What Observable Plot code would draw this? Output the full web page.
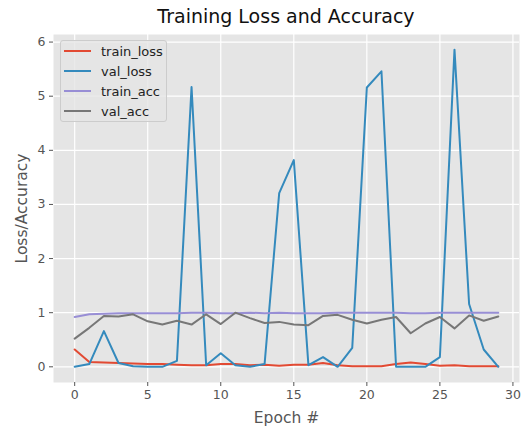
<!DOCTYPE html>
<html>
<head>
<meta charset="utf-8">
<script src="https://cdn.jsdelivr.net/npm/d3@7"></script>
<script src="https://cdn.jsdelivr.net/npm/@observablehq/plot@0.6"></script>
<style>
  body { margin: 0; background: #fff; font-family: "DejaVu Sans", sans-serif; }
  #wrap { position: relative; width: 526px; height: 428px; }
  #title { position: absolute; left: 53px; width: 466px; top: 5px; text-align: center; font-size: 19px; color: #111; }
  #chart { position: absolute; left: 0; top: 34px; }
  #legend { position: absolute; left: 60px; top: 40px; width: 107px; height: 82px; background: rgba(229,229,229,0.8); border: 1px solid #ccc; border-radius: 3px; box-sizing: border-box; font-size: 13px; color: #222; }
  .row { position: absolute; left: 3px; height: 20px; display: flex; align-items: center; }
  .row span.sw { display: inline-block; width: 27px; height: 2px; margin-right: 10px; }
</style>
</head>
<body>
<div id="wrap">
  <div id="title">Training Loss and Accuracy</div>
  <div id="chart"></div>
  <div id="legend"></div>
</div>
<script>
const epochs = d3.range(0, 30);
const seriesNames = ["train_loss", "val_loss", "train_acc", "val_acc"];
const seriesColors = ["#E24A33", "#348ABD", "#988ED5", "#777777"];
const train_loss = [0.32,0.09,0.08,0.07,0.06,0.05,0.05,0.04,0.03,0.03,0.05,0.05,0.03,0.04,0.02,0.04,0.04,0.07,0.03,0.01,0.01,0.01,0.05,0.08,0.05,0.02,0.03,0.01,0.01,0.01];
const val_loss = [0.0,0.05,0.66,0.07,0.01,0.0,0.0,0.11,5.17,0.03,0.25,0.03,0.0,0.05,3.21,3.82,0.03,0.18,0.0,0.35,5.16,5.46,0.0,0.0,0.0,0.18,5.86,1.16,0.32,0.0];
const train_acc = [0.92,0.97,0.98,0.99,0.99,0.99,0.99,0.99,1.0,1.0,0.99,0.99,1.0,0.99,1.0,0.99,0.99,0.99,1.0,1.0,1.0,1.0,1.0,0.99,0.99,1.0,1.0,1.0,1.0,1.0];
const val_acc = [0.52,0.72,0.94,0.93,0.97,0.84,0.78,0.85,0.78,0.97,0.79,1.0,0.90,0.81,0.83,0.78,0.77,0.94,0.96,0.87,0.80,0.87,0.92,0.62,0.80,0.92,0.71,0.95,0.85,0.93];
const xTicks = [0, 5, 10, 15, 20, 25, 30];
const yTicks = [0, 1, 2, 3, 4, 5, 6];

const allSeries = [train_loss, val_loss, train_acc, val_acc];
const rows = [];
allSeries.forEach((vals, s) => vals.forEach((v, i) => rows.push({epoch: epochs[i], value: v, series: seriesNames[s]})));

const chart = Plot.plot({
  width: 526,
  height: 394,
  marginTop: 0,
  marginLeft: 53,
  marginRight: 7,
  marginBottom: 46,
  style: {fontFamily: "DejaVu Sans, sans-serif", fontSize: "12.5px", color: "#555", background: "transparent", overflow: "visible"},
  x: {domain: [-1.45, 30.45]},
  y: {domain: [-0.29, 6.14]},
  color: {domain: seriesNames, range: seriesColors},
  marks: [
    Plot.frame({fill: "#E5E5E5", stroke: null}),
    Plot.gridX(xTicks, {stroke: "white", strokeOpacity: 1, strokeWidth: 1.2}),
    Plot.gridY(yTicks, {stroke: "white", strokeOpacity: 1, strokeWidth: 1.2}),
    Plot.axisX(xTicks, {tickSize: 4, tickPadding: 4, stroke: "#555", fill: "#555", label: null, fontSize: 12.5, tickFormat: d3.format("d")}),
    Plot.axisY(yTicks, {tickSize: 4, tickPadding: 4, stroke: "#555", fill: "#555", label: null, fontSize: 12.5, tickFormat: d3.format("d")}),
    Plot.axisX([], {label: "Epoch #", labelAnchor: "center", labelArrow: "none", labelOffset: 40, fontSize: 15.5, fill: "#555"}),
    Plot.axisY([], {label: "Loss/Accuracy", labelAnchor: "center", labelArrow: "none", labelOffset: 38, fontSize: 15.5, fill: "#555"}),
    Plot.line(rows, {x: "epoch", y: "value", z: "series", stroke: "series", strokeWidth: 2})
  ]
});
document.getElementById("chart").appendChild(chart);

const legend = document.getElementById("legend");
seriesNames.forEach((n, i) => {
  const r = document.createElement("div");
  r.className = "row";
  r.style.top = (i * 20) + "px";
  r.innerHTML = `<span class="sw" style="background:${seriesColors[i]}"></span><span>${n}</span>`;
  legend.appendChild(r);
});
</script>
</body>
</html>
